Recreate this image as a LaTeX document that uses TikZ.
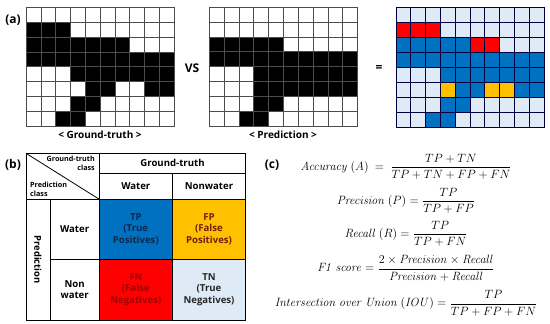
\documentclass[tikz,border=0pt]{standalone}
\usepackage[no-math]{fontspec}
\setmainfont{Open Sans}[BoldFont={Open Sans Bold}]
\usepackage{amsmath}
\definecolor{TPClr}{RGB}{0,112,192}
\definecolor{FPClr}{RGB}{255,192,0}
\definecolor{FNClr}{RGB}{255,0,0}
\definecolor{TNClr}{RGB}{222,235,247}
\definecolor{TPTxt}{RGB}{15,40,75}
\definecolor{FPTxt}{RGB}{110,30,10}
\definecolor{FNTxt}{RGB}{165,0,0}
\colorlet{gt0}{white}\colorlet{gt1}{black}\colorlet{gt2}{black}\colorlet{gt3}{white}
\colorlet{pd0}{white}\colorlet{pd1}{black}\colorlet{pd2}{white}\colorlet{pd3}{black}
\colorlet{cm0}{TNClr}\colorlet{cm1}{TPClr}\colorlet{cm2}{FNClr}\colorlet{cm3}{FPClr}

\begin{document}
\begin{tikzpicture}[x=1pt,y=-1pt,
  gridcell/.style={draw=#1,line width=0.4pt},
  panel/.style={font=\bfseries\fontsize{12}{14}\selectfont},
  caption/.style={font=\bfseries\fontsize{10}{12}\selectfont},
  tabcell/.style={draw,line width=0.8pt,inner sep=0pt,outer sep=0pt,anchor=north west,
    align=center,font=\bfseries\fontsize{9.6}{11.6}\selectfont},
  tiny/.style={inner sep=0pt,font=\bfseries\fontsize{7.2}{9}\selectfont},
  eqn/.style={font=\fontsize{11.5}{13}\selectfont}]
\useasboundingbox (0,0) rectangle (550,324);

\foreach \row [count=\r from 0] in {
  {0,0,0,0,0,0,0,0,0,0},
  {2,2,2,0,0,0,0,0,0,0},
  {1,1,1,1,1,2,2,0,0,0},
  {1,1,1,1,1,1,1,1,1,1},
  {0,0,0,1,1,1,1,1,1,1},
  {0,0,0,3,1,1,3,3,1,1},
  {0,0,0,1,1,0,0,0,0,0},
  {0,0,1,1,0,0,0,0,0,0}} {
  \foreach \k [count=\c from 0] in \row {
    \draw[gridcell=black!70,fill=gt\k] (26+\c*14.8,7+\r*14.9) rectangle ++(14.8,14.9);
    \draw[gridcell=black!70,fill=pd\k] (209+\c*14.85,7+\r*14.85) rectangle ++(14.85,14.85);
    \draw[gridcell=black!75!blue,fill=cm\k] (395.7+\c*14.83,7.5+\r*14.9) rectangle ++(14.83,14.9);
  }
}

\node[panel] (pa) at (13,20) {(a)};
\node[panel] (vs) at (192,68) {VS};
\node[panel] (eq) at (379,68) {=};
\node[caption] (gtcap) at (100,135) {< Ground-truth >};
\node[caption] (pdcap) at (283,135) {< Prediction >};

\node[panel] (pb) at (13,165) {(b)};
\node[tabcell,minimum width=73.3,minimum height=46] (hdr) at (26,153.3) {};
\node[tabcell,minimum width=146.4,minimum height=20] (gtall) at (99.3,153.3) {Ground-truth};
\node[tabcell,minimum width=73,minimum height=26] (colw) at (99.3,173.3) {Water};
\node[tabcell,minimum width=73.4,minimum height=26] (colnw) at (172.3,173.3) {Nonwater};
\node[tabcell,minimum width=24,minimum height=120.7] (predcol) at (26,199.3) {};
\node[rotate=-90,font=\bfseries\fontsize{9.4}{11}\selectfont] (predlbl) at (predcol.center) {Prediction};
\node[tabcell,minimum width=49.3,minimum height=59.7] (roww) at (50,199.3) {Water};
\node[tabcell,minimum width=49.3,minimum height=61] (rownw) at (50,259) {Non\\water};
\node[tabcell,fill=TPClr,text=TPTxt,minimum width=73,minimum height=59.7] (tp) at (99.3,199.3) {TP\\(True\\Positives)};
\node[tabcell,fill=FPClr,text=FPTxt,minimum width=73.4,minimum height=59.7] (fp) at (172.3,199.3) {FP\\(False\\Positives)};
\node[tabcell,fill=FNClr,text=FNTxt,minimum width=73,minimum height=61] (fn) at (99.3,259) {FN\\(False\\Negatives)};
\node[tabcell,fill=TNClr,text=black!85,minimum width=73.4,minimum height=61] (tn) at (172.3,259) {TN\\(True\\Negatives)};
\draw[line width=0.8pt] (hdr.north west) -- (hdr.south east);
\node[tiny,anchor=north east,align=right] (gtcls) at (95,155.5) {Ground-truth\\class};
\node[tiny,anchor=south west,align=left] (pdcls) at (30,196.5) {Prediction\\class};

\node[panel] (pc) at (272,165) {(c)};
\node[eqn] (acc) at (406,166.7) {$\mathit{Accuracy}\ (A)\ =\ \dfrac{TP+TN}{TP+TN+FP+FN}$};
\node[eqn] (prec) at (406,200.7) {$\mathit{Precision}\ (P) = \dfrac{TP}{TP+FP}$};
\node[eqn] (rec) at (406,234) {$\mathit{Recall}\ (R) = \dfrac{TP}{TP+FN}$};
\node[eqn] (fone) at (406,268.3) {$\mathit{F1\ score} = \dfrac{2\times\mathit{Precision}\times\mathit{Recall}}{\mathit{Precision}+\mathit{Recall}}$};
\node[eqn] (iou) at (406,303.3) {$\mathit{Intersection\ over\ Union}\ (\mathit{IOU}) = \dfrac{TP}{TP+FP+FN}$};
\end{tikzpicture}
\end{document}
